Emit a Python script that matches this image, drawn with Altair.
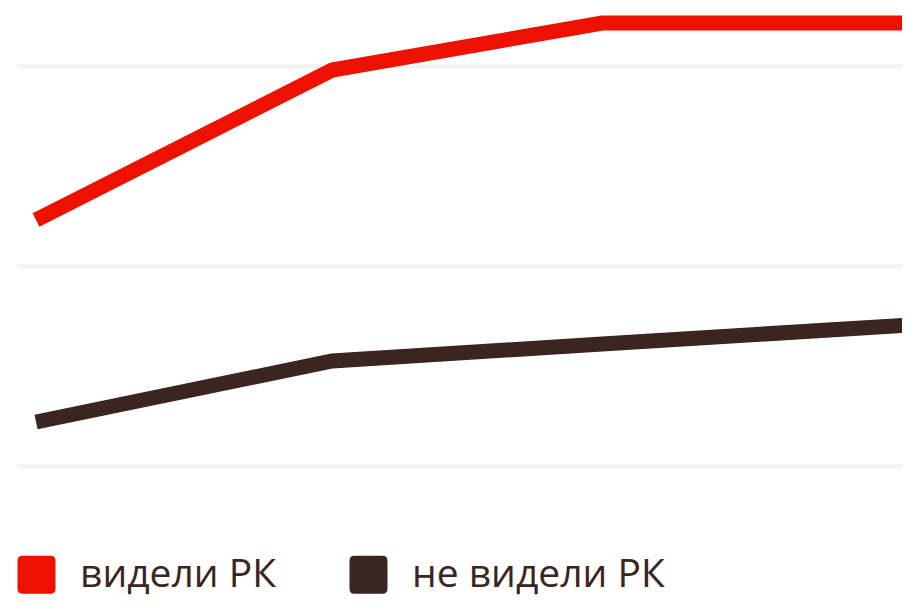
import altair as alt
import pandas as pd

# --- data ---
series_names = ["видели РК", "не видели РК"]
day = [0, 30.5, 58.3, 90]
seen = [44.6, 59.6, 64.3, 64.3]
not_seen = [24.4, 30.5, 32.2, 34.1]
grid_values = [20, 40, 60]
colors = ["#EE1100", "#3B2520"]

rows = []
for d, v in zip(day, seen):
    rows.append({"day": d, "value": v, "group": series_names[0]})
for d, v in zip(day, not_seen):
    rows.append({"day": d, "value": v, "group": series_names[1]})
df = pd.DataFrame(rows)

rounded_square = ("M-0.74,-1H0.74Q1,-1,1,-0.74V0.74Q1,1,0.74,1H-0.74"
                  "Q-1,1,-1,0.74V-0.74Q-1,-1,-0.74,-1Z")

base = alt.Chart(df).encode(
    x=alt.X("day:Q", axis=None,
            scale=alt.Scale(domain=[-1.96, 89.18], nice=False, zero=False)),
    y=alt.Y("value:Q",
            scale=alt.Scale(domain=[16.6, 65.8], nice=False, zero=False),
            axis=alt.Axis(values=grid_values, grid=True, gridColor="#F2F2F2",
                          gridWidth=4, domain=False, ticks=False, labels=False,
                          title=None)),
    color=alt.Color("group:N",
                    sort=series_names,
                    scale=alt.Scale(domain=series_names, range=colors),
                    legend=alt.Legend(
                        title=None, orient="none", direction="horizontal",
                        legendX=0, legendY=547,
                        symbolType=rounded_square, symbolSize=1444,
                        symbolStrokeWidth=0, symbolOpacity=1,
                        labelFont="Open Sans", labelFontSize=39, labelLimit=600,
                        labelColor="#3B2520", labelOffset=24,
                        columnPadding=73, padding=0,
                    )),
    order="day:Q",
)

# invisible filled points: they give the legend filled symbols
legend_driver = base.mark_point(filled=True, size=0, opacity=0)
lines = base.mark_line(strokeWidth=15, strokeCap="butt", clip=True)

chart = alt.layer(legend_driver, lines).properties(
    width=885, height=492, background="white",
    autosize=alt.AutoSizeParams(type="none"),
    padding={"left": 9, "top": 0, "right": 0, "bottom": 100},
).configure_view(strokeWidth=0, stroke="transparent")

chart.save("out.html", embed_options={"renderer": "svg", "actions": False})
